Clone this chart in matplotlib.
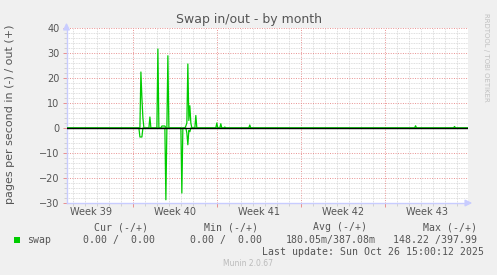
import matplotlib
matplotlib.use("Agg")
import matplotlib.pyplot as plt
import matplotlib.dates as mdates
import pandas as pd

# ---------------------------------------------------------------
# data (hours after Mon 29 Sep 2025 00:00)
out_hours = [-140, 13, 15, 17, 19, 21, 31, 33, 35, 47, 49, 51, 55, 57, 59, 61, 63, 65,
             67, 69, 71, 103, 105, 107, 109, 111, 113, 115, 117, 123, 125, 127,
             165, 167, 169, 173, 175, 177, 181, 183, 185, 231, 233, 235,
             563, 565, 567, 641, 643, 645, 680]
out_vals = [0, 0, 22.4, 12, 4, 0, 0, 4.4, 0, 0, 31.6, 0, 0, 0.8, 0.8, 0.8, 0.8, 0,
            0, 28.9, 0, 0, 0.8, 2, 25.6, 3, 8.9, 2, 0, 0, 5.0, 0,
            0, 2.0, 0, 0, 1.7, 0, 0, 0.4, 0, 0, 1.2, 0,
            0, 0.9, 0, 0, 0.6, 0, 0]
in_hours = [-140, 11, 13, 15, 17, 19, 63, 65, 67, 95, 97, 99,
            105, 107, 109, 111, 113, 115, 680]
in_vals = [0, 0, -3.6, -3.6, -3.6, 0, 0, -28.7, 0, 0, -26, 0,
           0, -2, -6.7, -1, -1.5, 0, 0]

week_labels = ["Week 39", "Week 40", "Week 41", "Week 42", "Week 43"]
legend_head = ["Cur (-/+)", "Min (-/+)", "Avg (-/+)", "Max (-/+)"]
legend_vals = ["0.00 /  0.00", "0.00 /  0.00", "180.05m/387.08m", "148.22 /397.99"]

base = pd.Timestamp("2025-09-29 00:00")
t_out = base + pd.to_timedelta(out_hours, unit="h")
t_in = base + pd.to_timedelta(in_hours, unit="h")
x0 = pd.Timestamp("2025-09-23 10:00")
x1 = pd.Timestamp("2025-10-26 22:00")

W, H = 497, 275
def fx(x):
    return x / W
def fy(y):
    return 1 - y / H

txt = "#555555"
mono = "DejaVu Sans Mono"

fig = plt.figure(figsize=(W / 100, H / 100), dpi=100, facecolor="#f0f0f0")
ax = fig.add_axes([fx(66.5), fy(203), (468 - 66.5) / W, (203 - 28) / H])
ax.set_facecolor("white")

ax.plot(t_out, out_vals, color="#00cc00", lw=0.9, zorder=3)
ax.plot(t_in, in_vals, color="#00cc00", lw=0.9, zorder=3)
ax.axhline(0, color="black", lw=1.0, zorder=4)

ax.set_xlim(x0, x1)
ax.set_ylim(-30, 40)

# grid: days / weeks, 2 / 10 units
ax.xaxis.set_major_locator(mdates.WeekdayLocator(byweekday=mdates.MO))
ax.xaxis.set_minor_locator(mdates.WeekdayLocator(
    byweekday=[mdates.TU, mdates.WE, mdates.TH, mdates.FR, mdates.SA, mdates.SU]))
ax.yaxis.set_major_locator(plt.MultipleLocator(10))
ax.yaxis.set_minor_locator(plt.MultipleLocator(2))
ax.grid(which="minor", color="#d4d4d4", lw=0.6, ls=(0, (1, 1)))
ax.grid(which="major", color="#e89090", lw=0.7, ls=(0, (1, 1.5)))
ax.xaxis.set_major_formatter(plt.NullFormatter())
ax.tick_params(axis="x", which="major", length=3, color="#e89090", width=0.7)
ax.tick_params(axis="x", which="minor", length=2, color="#cccccc", width=0.6)
ax.tick_params(axis="y", which="major", length=3, color="#e89090", width=0.7,
               labelsize=7, labelcolor=txt, pad=2)
ax.tick_params(axis="y", which="minor", length=2, color="#cccccc", width=0.6)

for s in ["top", "right"]:
    ax.spines[s].set_visible(False)
for s in ["left", "bottom"]:
    ax.spines[s].set_color("#c8ccff")
    ax.spines[s].set_linewidth(1.0)

# axis arrows
ax.annotate("", xy=(fx(66.5), fy(20)), xytext=(fx(66.5), fy(29)), xycoords="figure fraction",
            arrowprops=dict(arrowstyle="-|>,head_length=0.4,head_width=0.2", color="#c8ccff", lw=1.0))
ax.annotate("", xy=(fx(475), fy(203)), xytext=(fx(466), fy(203)), xycoords="figure fraction",
            arrowprops=dict(arrowstyle="-|>,head_length=0.4,head_width=0.2", color="#c8ccff", lw=1.0))

# week labels centred in each week
for i, lab in enumerate(week_labels):
    tc = pd.Timestamp("2025-09-25 12:00") + pd.Timedelta(days=7 * i)
    ax.text(tc, -0.05, lab, transform=ax.get_xaxis_transform(), ha="center", va="center",
            fontsize=7, color=txt)

fig.text(0.5, fy(19), "Swap in/out - by month", ha="center", va="center", fontsize=9, color=txt)
fig.text(fx(10.5), fy(114), "pages per second in (-) / out (+)", rotation=90,
         ha="center", va="center", fontsize=8, color=txt)
fig.text(fx(486), fy(13), "RRDTOOL / TOBI OETIKER", rotation=270, ha="center", va="top",
         fontsize=5.0, color="#c0c0c0")

# legend block
for xl, s in zip([94, 204, 313, 423], legend_head):
    fig.text(fx(xl), fy(227.5), s, ha="left", va="center", fontsize=7.1, color=txt, family=mono)
fig.patches.append(plt.Rectangle((fx(14), fy(243)), 6 / W, 6 / H, transform=fig.transFigure,
                                 facecolor="#00cc00", edgecolor="none"))
fig.text(fx(27), fy(240), "swap", ha="left", va="center", fontsize=7.1, color=txt, family=mono)
for xl, s in zip([83, 190, 286, 393], legend_vals):
    fig.text(fx(xl), fy(240), s, ha="left", va="center", fontsize=7.1, color=txt, family=mono)
fig.text(fx(262), fy(252), "Last update: Sun Oct 26 15:00:12 2025", ha="left", va="center",
         fontsize=7.1, color=txt, family=mono)
fig.text(fx(248), fy(263.5), "Munin 2.0.67", ha="center", va="center", fontsize=5.5, color="#bbbbbb")

fig.savefig("out.png", dpi=100, facecolor=fig.get_facecolor())
